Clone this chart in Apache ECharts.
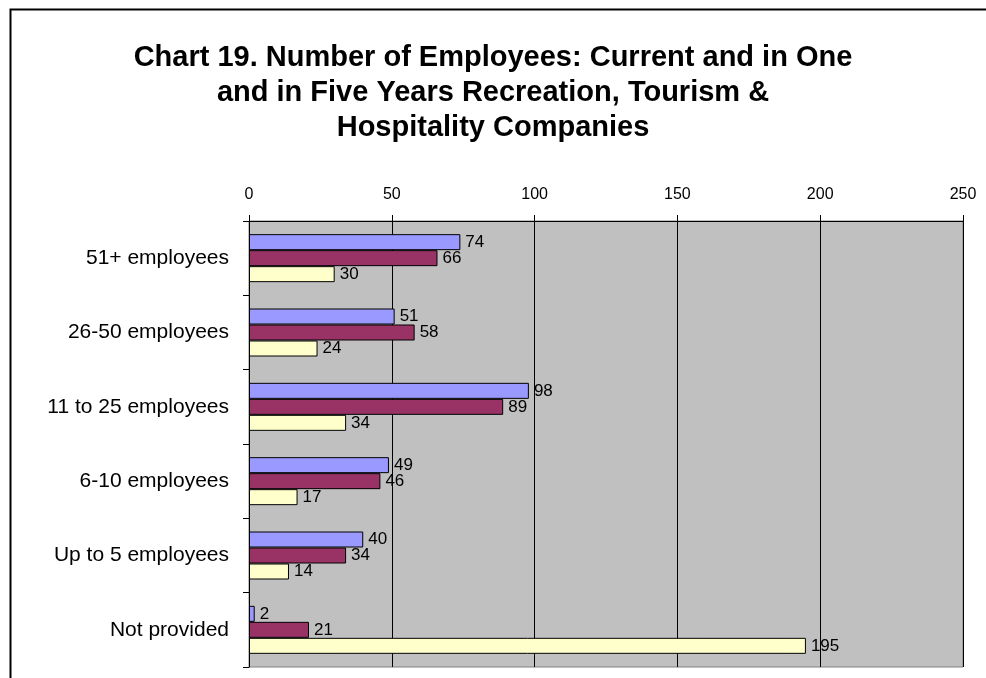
<!DOCTYPE html>
<html>
<head>
<meta charset="utf-8">
<script src="https://cdn.jsdelivr.net/npm/echarts@6/dist/echarts.min.js"></script>
<style>
  html, body { margin: 0; padding: 0; background: #ffffff; }
  #chart { width: 986px; height: 678px; }
</style>
</head>
<body>
<div id="chart"></div>
<script>
// Company size bands, top to bottom
const categories = ['51+ employees', '26-50 employees', '11 to 25 employees', '6-10 employees', 'Up to 5 employees', 'Not provided'];
// Employee counts per band
const currentValues = [74, 51, 98, 49, 40, 2];
const oneYearValues = [66, 58, 89, 46, 34, 21];
const fiveYearValues = [30, 24, 34, 17, 14, 195];
const seriesNames = ['Current', 'In one year', 'In five years'];
const axisTicks = [0, 50, 100, 150, 200, 250];

const FONT = '"Liberation Sans", Arial, sans-serif';
const chart = echarts.init(document.getElementById('chart'), null, { renderer: 'canvas' });

function barSeries(name, data, color) {
  return {
    name: name,
    type: 'bar',
    data: data,
    barWidth: 16,
    barGap: '0%',
    itemStyle: { color: color, borderColor: '#000000', borderWidth: 1 },
    label: {
      show: true,
      position: 'right',
      distance: 5,
      color: '#000000',
      fontFamily: FONT,
      fontSize: 17
    },
    animation: false
  };
}

chart.setOption({
  animation: false,
  backgroundColor: '#ffffff',
  title: {
    text: 'Chart 19. Number of Employees: Current and in One\nand in Five Years Recreation, Tourism &\nHospitality Companies',
    left: 493,
    textAlign: 'center',
    top: 40,
    padding: 0,
    textStyle: {
      fontFamily: FONT,
      fontWeight: 'bold',
      fontSize: 29,
      lineHeight: 35,
      color: '#000000'
    }
  },
  graphic: [{
    type: 'rect',
    shape: { x: 10.5, y: 9.5, width: 1000, height: 700 },
    style: { fill: 'none', stroke: '#000000', lineWidth: 2 },
    silent: true,
    z: 100
  }],
  grid: {
    left: 249, top: 221, right: 23, bottom: 11,
    show: true,
    backgroundColor: '#C0C0C0',
    borderColor: '#808080',
    borderWidth: 1
  },
  xAxis: {
    type: 'value',
    position: 'top',
    min: axisTicks[0],
    max: axisTicks[axisTicks.length - 1],
    interval: axisTicks[1] - axisTicks[0],
    axisLine: { show: true, lineStyle: { color: '#000000', width: 1 } },
    axisTick: { show: true, length: 6, lineStyle: { color: '#000000' } },
    splitLine: { show: true, lineStyle: { color: '#000000', width: 1 } },
    axisLabel: { color: '#000000', fontFamily: FONT, fontSize: 16, margin: 18 }
  },
  yAxis: {
    type: 'category',
    inverse: true,
    data: categories,
    axisLine: { show: true, lineStyle: { color: '#000000', width: 1 } },
    axisTick: { show: true, length: 6, lineStyle: { color: '#000000' } },
    axisLabel: { color: '#000000', fontFamily: FONT, fontSize: 21, margin: 20 }
  },
  series: [
    barSeries(seriesNames[0], currentValues, '#9999FF'),
    barSeries(seriesNames[1], oneYearValues, '#993366'),
    barSeries(seriesNames[2], fiveYearValues, '#FFFFCC')
  ]
});
</script>
</body>
</html>
